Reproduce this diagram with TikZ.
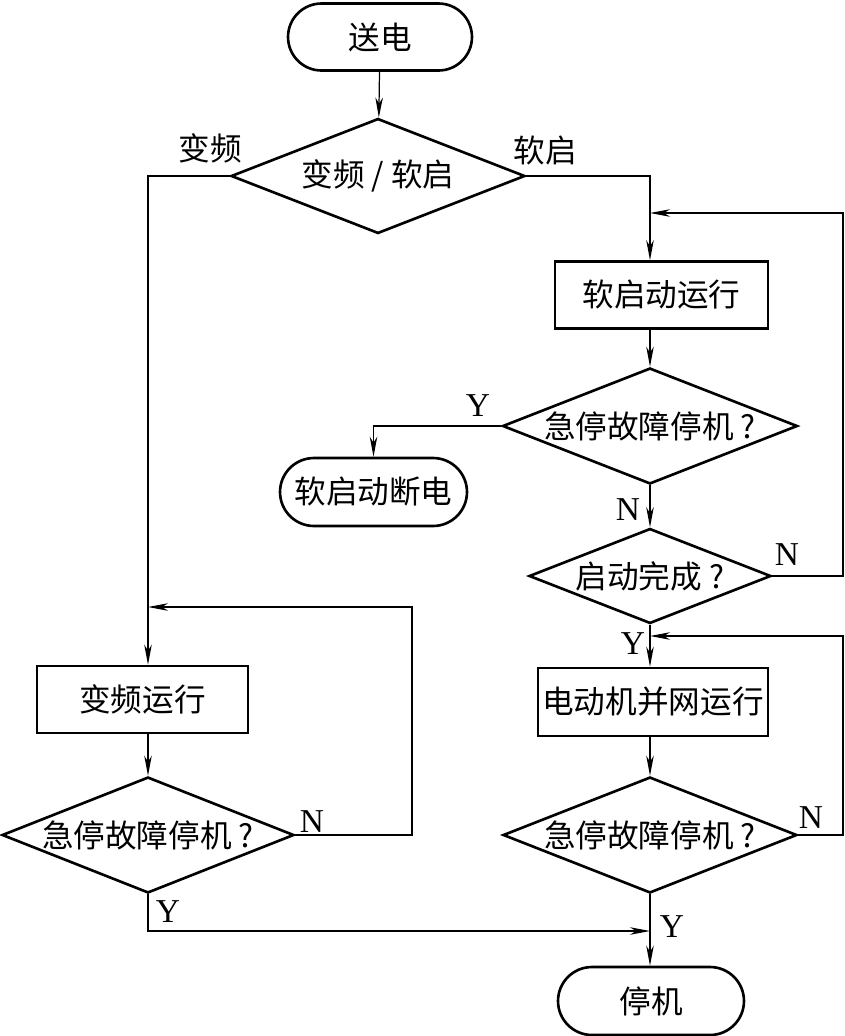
\documentclass[tikz,border=0pt]{standalone}
\usepackage{fontspec}
\setmainfont{Liberation Serif}
\newfontfamily\cjk{Noto Sans CJK SC}
\usetikzlibrary{shapes.geometric,shapes.misc,arrows.meta}
\tikzset{
  cjktxt/.style={font=\cjk\fontsize{18}{20}\selectfont},
  boite/.style={draw,rectangle,line width=1.5pt,inner sep=0pt,cjktxt},
  test/.style={draw,diamond,aspect=2.5,inner sep=0pt,line width=1.5pt,cjktxt},
  bout/.style={draw,rounded rectangle,line width=1.5pt,inner sep=0pt,cjktxt},
  fl/.style={line width=0.7pt,-{Stealth[length=4mm,width=1.5mm,inset=1.2mm]}},
  yn/.style={font=\fontsize{19}{20}\selectfont}
}
\begin{document}
\begin{tikzpicture}[x=0.02cm,y=-0.02cm]
        \useasboundingbox (0,0) rectangle (845,1036);
        \node[bout,minimum width=3.68cm,minimum height=1.34cm] (SD) at (380,37){送电};
        \node[test,minimum width=5.88cm,minimum height=2.3cm] (D1) at (378,176){变频 / 软启};
        \node[boite,minimum width=4.26cm,minimum height=1.34cm] (SR) at (661.5,295){软启动运行};
        \node[test,minimum width=5.9cm,minimum height=2.32cm] (D2) at (650,426){急停故障停机 ?};
        \node[bout,minimum width=3.74cm,minimum height=1.36cm] (SC) at (373.5,492){软启动断电};
        \node[test,minimum width=4.84cm,minimum height=1.9cm] (D3) at (650,576){启动完成 ?};
        \node[boite,minimum width=4.6cm,minimum height=1.36cm] (MR) at (653,702){电动机并网运行};
        \node[test,minimum width=5.88cm,minimum height=2.32cm] (D4) at (650,835){急停故障停机 ?};
        \node[bout,minimum width=3.72cm,minimum height=1.36cm] (ST) at (651,1001){停机};
        \node[boite,minimum width=4.22cm,minimum height=1.34cm] (VR) at (142.5,699.5){变频运行};
        \node[test,minimum width=5.84cm,minimum height=2.32cm] (DL) at (148,835){急停故障停机 ?};
        \coordinate (JR) at (650,213);
        \coordinate (JR2) at (650,636);
        \coordinate (JL) at (148,607);
        \coordinate (JY) at (650,931);
        \coordinate (bordD) at (843,0);
        \coordinate (bordL) at (412,0);
        \node[cjktxt] (lV) at (210,148){变频};
        \node[cjktxt] (lS) at (545,150){软启};
        \node[yn] (y1) at (478,406){Y};
        \node[yn] (n1) at (628,510){N};
        \node[yn] (n2) at (787,555){N};
        \node[yn] (y2) at (633,644){Y};
        \node[yn] (n3) at (312,822){N};
        \node[yn] (n4) at (811,818){N};
        \node[yn] (y3) at (168,912){Y};
        \node[yn] (y4) at (672,927){Y};
        \draw[fl] (SD) to (D1);
        \draw[fl] (D1.east) -| (JR) -- (JR |- SR.north);
        \draw[fl] (SR.south -| D2) -- (D2);
        \draw[fl] (D2.west) -| (SC.north);
        \draw[fl] (D2) -- (D3);
        \draw[fl] (D3.east) -| (bordD |- JR) -- (JR);
        \draw[fl] (D3.south) -- (D3.south |- MR.north);
        \draw[fl] (MR.south -| D4) -- (D4);
        \draw[fl] (D4.east) -| (bordD |- JR2) -- (JR2);
        \draw[fl] (D4.south) -- (D4.south |- ST.north);
        \draw[fl] (D1.west) -| (JL) -- (JL |- VR.north);
        \draw[fl] (VR.south -| DL) -- (DL);
        \draw[fl] (DL.east) -| (bordL |- JL) -- (JL);
        \draw[fl] (DL.south) |- (JY);
    \end{tikzpicture}
\end{document}
